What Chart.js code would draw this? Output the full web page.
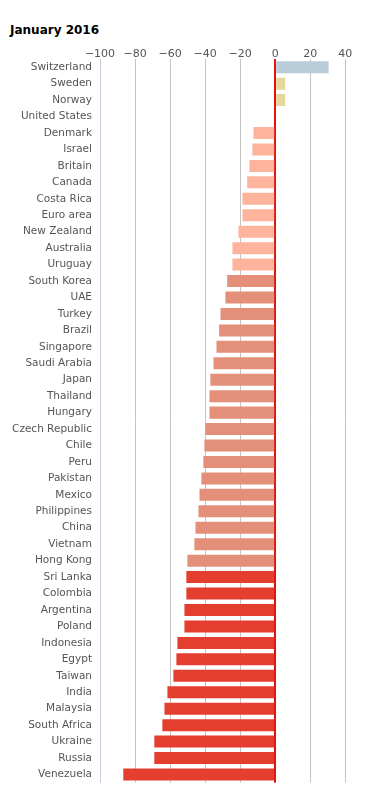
<!DOCTYPE html>
<html>
<head>
<meta charset="utf-8">
<script src="https://cdn.jsdelivr.net/npm/chart.js@4"></script>
<style>
  html, body { margin: 0; padding: 0; background: #fff; }
  #wrap { position: relative; width: 365px; height: 797px; }
  #title {
    position: absolute; left: 10px; top: 23px;
    font: bold 12px "DejaVu Sans", Verdana, sans-serif; color: #000;
  }
  canvas { position: absolute; left: 0; top: 0; }
</style>
</head>
<body>
<div id="wrap">
  <div id="title">January 2016</div>
  <canvas id="myChart" width="365" height="797"></canvas>
</div>
<script>
const countries = [
  'Switzerland', 'Sweden', 'Norway', 'United States', 'Denmark', 'Israel',
  'Britain', 'Canada', 'Costa Rica', 'Euro area', 'New Zealand', 'Australia',
  'Uruguay', 'South Korea', 'UAE', 'Turkey', 'Brazil', 'Singapore',
  'Saudi Arabia', 'Japan', 'Thailand', 'Hungary', 'Czech Republic', 'Chile',
  'Peru', 'Pakistan', 'Mexico', 'Philippines', 'China', 'Vietnam',
  'Hong Kong', 'Sri Lanka', 'Colombia', 'Argentina', 'Poland', 'Indonesia',
  'Egypt', 'Taiwan', 'India', 'Malaysia', 'South Africa', 'Ukraine',
  'Russia', 'Venezuela'
];

// % over/under valuation against the dollar
const values = [
  30.5, 5.7, 5.7, 0, -12.4, -13,
  -14.7, -16, -18.7, -18.7, -21, -24.4,
  -24.4, -27.4, -28.4, -31.2, -32, -33.5,
  -35.2, -37, -37.5, -37.5, -39.8, -40.4,
  -41, -42.1, -43.2, -43.8, -45.5, -46.1,
  -50.1, -50.7, -50.7, -51.8, -51.8, -55.8,
  -56.4, -58.1, -61.5, -63.2, -64.4, -69,
  -69, -86.7
];

// colour band of each country
const bands = [
  0, 1, 1, 2, 2, 2,
  2, 2, 2, 2, 2, 2,
  2, 3, 3, 3, 3, 3,
  3, 3, 3, 3, 3, 3,
  3, 3, 3, 3, 3, 3,
  3, 4, 4, 4, 4, 4,
  4, 4, 4, 4, 4, 4,
  4, 4
];

const xTicks = [-100, -80, -60, -40, -20, 0, 20, 40];

const bandColors = ['#b8cdd7', '#e5d79a', '#fdb39c', '#e38f79', '#e33e2e'];
const font = '"DejaVu Sans", Verdana, sans-serif';

const ctx = document.getElementById('myChart').getContext('2d');
new Chart(ctx, {
  type: 'bar',
  data: {
    labels: countries,
    datasets: [{
      data: values,
      backgroundColor: bands.map(b => bandColors[b]),
      borderWidth: 0,
      barPercentage: 0.73,
      categoryPercentage: 1,
    }],
  },
  options: {
    indexAxis: 'y',
    responsive: false,
    animation: false,
    layout: { padding: { left: 0, right: 11, top: 0, bottom: 10 } },
    plugins: {
      legend: { display: false },
      tooltip: { enabled: false },
    },
    scales: {
      x: {
        position: 'top',
        min: -100,
        max: 45,
        afterBuildTicks: axis => { axis.ticks = xTicks.map(v => ({ value: v })); },
        afterFit: scale => { scale.height = 59; },
        ticks: {
          padding: -2,
          color: '#555',
          font: { family: font, size: 11 },
          callback: v => String(v).replace('-', '\u2212'),
        },
        grid: {
          drawTicks: false,
          color: ctx => ctx.tick && ctx.tick.value === 0 ? '#e3120b' : '#c4c4c4',
          lineWidth: ctx => ctx.tick && ctx.tick.value === 0 ? 2 : 1,
        },
        border: { display: false },
      },
      y: {
        afterFit: scale => { scale.width = 100; },
        ticks: {
          autoSkip: false,
          padding: 8,
          color: '#555',
          font: { family: font, size: 10.5 },
        },
        grid: { display: false, drawTicks: false },
        border: { color: '#c3cfdc', width: 1 },
      },
    },
  },
});
</script>
</body>
</html>
